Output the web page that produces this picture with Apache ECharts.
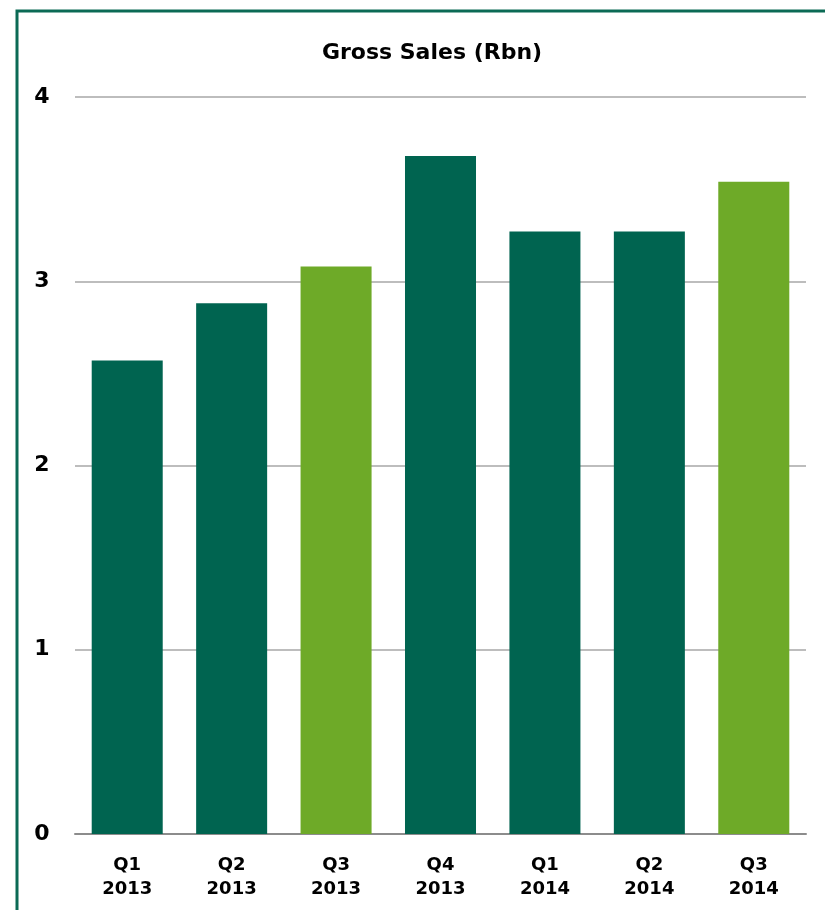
<!DOCTYPE html>
<html><head><meta charset="utf-8">
<script src="https://cdn.jsdelivr.net/npm/echarts@6/dist/echarts.min.js"></script>
<style>html,body{margin:0;padding:0;background:#fff}#c{width:825px;height:910px}</style>
</head><body><div id="c"></div>
<script>
const categories = ['Q1\n2013','Q2\n2013','Q3\n2013','Q4\n2013','Q1\n2014','Q2\n2014','Q3\n2014'];
const values = [2.57, 2.88, 3.08, 3.68, 3.27, 3.27, 3.54];
const barColors = ['#006450','#006450','#6EAA28','#006450','#006450','#006450','#6EAA28'];
const yTicks = [0, 1, 2, 3, 4];
const FONT = '"DejaVu Sans", sans-serif';
const chart = echarts.init(document.getElementById('c'));
chart.setOption({
  animation: false,
  title: { text: 'Gross Sales (Rbn)', left: 427, top: 37, textAlign: 'center',
    textStyle: { fontFamily: FONT, fontWeight: 'bold', fontSize: 22, color: '#000' } },
  graphic: [{ type: 'rect', shape: { x: 17, y: 11, width: 900, height: 1000 },
    style: { fill: 'none', stroke: '#0b6a55', lineWidth: 3 }, z: 100 }],
  grid: { left: 75, right: 19, top: 97, bottom: 76 },
  xAxis: { type: 'category', data: categories,
    axisLine: { lineStyle: { color: '#8c8c8c', width: 2 } }, axisTick: { show: false },
    axisLabel: { fontFamily: FONT, fontWeight: 'bold', fontSize: 18, color: '#000', margin: 19, lineHeight: 24 } },
  yAxis: { type: 'value', min: yTicks[0], max: yTicks[yTicks.length-1], interval: 1,
    axisLine: { show: false }, axisTick: { show: false },
    splitLine: { lineStyle: { color: '#bdbdbd', width: 2 } },
    axisLabel: { fontFamily: FONT, fontWeight: 'bold', fontSize: 22, color: '#000', margin: 33, align: 'center' } },
  series: [{ type: 'bar', barCategoryGap: '32%',
    data: values.map((v, i) => ({ value: v, itemStyle: { color: barColors[i] } })) }]
});
</script></body></html>
